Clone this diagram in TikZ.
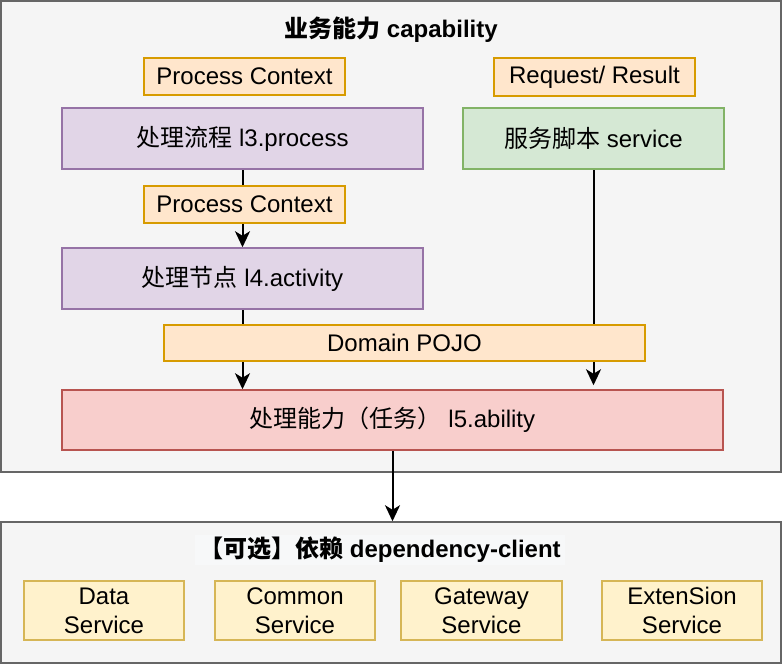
\documentclass[tikz,border=0pt]{standalone}
\usepackage{fontspec}
\setmainfont{Liberation Sans}
\newfontfamily\cjk{Noto Sans CJK SC}
\usetikzlibrary{arrows.meta}
\definecolor{grayF}{HTML}{F5F5F5}
\definecolor{grayD}{HTML}{666666}
\definecolor{oraF}{HTML}{FFE6CC}
\definecolor{oraD}{HTML}{D79B00}
\definecolor{purF}{HTML}{E1D5E7}
\definecolor{purD}{HTML}{9673A6}
\definecolor{grnF}{HTML}{D5E8D4}
\definecolor{grnD}{HTML}{82B366}
\definecolor{redF}{HTML}{F8CECC}
\definecolor{redD}{HTML}{B85450}
\definecolor{yelF}{HTML}{FFF2CC}
\definecolor{yelD}{HTML}{D6B656}
\definecolor{lblF}{HTML}{F7F8F9}
\pgfdeclarelayer{back}
\pgfdeclarelayer{arrows}
\pgfsetlayers{back,arrows,main}
\tikzset{
  box/.style={rectangle, inner sep=0pt, line width=1.5pt, align=center,
    font=\fontsize{24}{29}\selectfont},
  group/.style={box, fill=grayF, draw=grayD},
  ora/.style={box, fill=oraF, draw=oraD},
  pur/.style={box, fill=purF, draw=purD},
  grn/.style={box, fill=grnF, draw=grnD},
  red/.style={box, fill=redF, draw=redD},
  yel/.style={box, fill=yelF, draw=yelD},
  ttl/.style={inner sep=2pt, font=\fontsize{24}{29}\selectfont\bfseries},
  conn/.style={line width=2pt, -{Stealth[length=16pt,width=15pt,inset=4.5pt]}},
}
\begin{document}
\begin{tikzpicture}[x=1pt,y=-1pt]
\useasboundingbox (0,0) rectangle (782,664);
\begin{pgfonlayer}{back}
\node[group, minimum width=780, minimum height=471] (cap) at (391,236.5) {};
\node[group, minimum width=780, minimum height=141] (dep) at (391,592.5) {};
\end{pgfonlayer}
\node[ttl] (capt) at (391,30) {{\cjk 业务能力} capability};
\node[ttl, fill=lblF, inner xsep=4pt] (dept) at (380,550) {{\cjk 【可选】依赖} dependency-client};

\node[ora, minimum width=201, minimum height=37] (pc1) at (244.5,76.5) {Process Context};
\node[ora, minimum width=201, minimum height=38] (rr) at (594.5,77) {Request/ Result};
\node[pur, minimum width=361, minimum height=61] (l3) at (242.5,138.5) {{\cjk 处理流程} l3.process};
\node[grn, minimum width=261, minimum height=61] (svc) at (593.5,138.5) {{\cjk 服务脚本} service};
\node[ora, minimum width=201, minimum height=37] (pc2) at (244.5,204.5) {Process Context};
\node[pur, minimum width=361, minimum height=61] (l4) at (242.5,278.5) {{\cjk 处理节点} l4.activity};
\node[ora, minimum width=481, minimum height=36] (pojo) at (404.5,343) {Domain POJO};
\node[red, minimum width=661, minimum height=60] (l5) at (392.5,420) {{\cjk 处理能力（任务）} l5.ability};

\node[yel, minimum width=160, minimum height=59] (data) at (104,610.5) {Data\\Service};
\node[yel, minimum width=160, minimum height=59] (common) at (295,610.5) {Common\\Service};
\node[yel, minimum width=161, minimum height=59] (gw) at (481.5,610.5) {Gateway\\Service};
\node[yel, minimum width=160, minimum height=59] (ext) at (682,610.5) {ExtenSion\\Service};

\begin{pgfonlayer}{arrows}
\draw[conn] (l3.south) -- (l4.north);
\draw[conn] (l4.south) -- (l4.south |- l5.north);
\draw[conn, shorten >=4pt] (svc.south) -- (svc.south |- l5.north);
\draw[conn] (l5.south) -- (l5.south |- dep.north);
\end{pgfonlayer}
\end{tikzpicture}
\end{document}
